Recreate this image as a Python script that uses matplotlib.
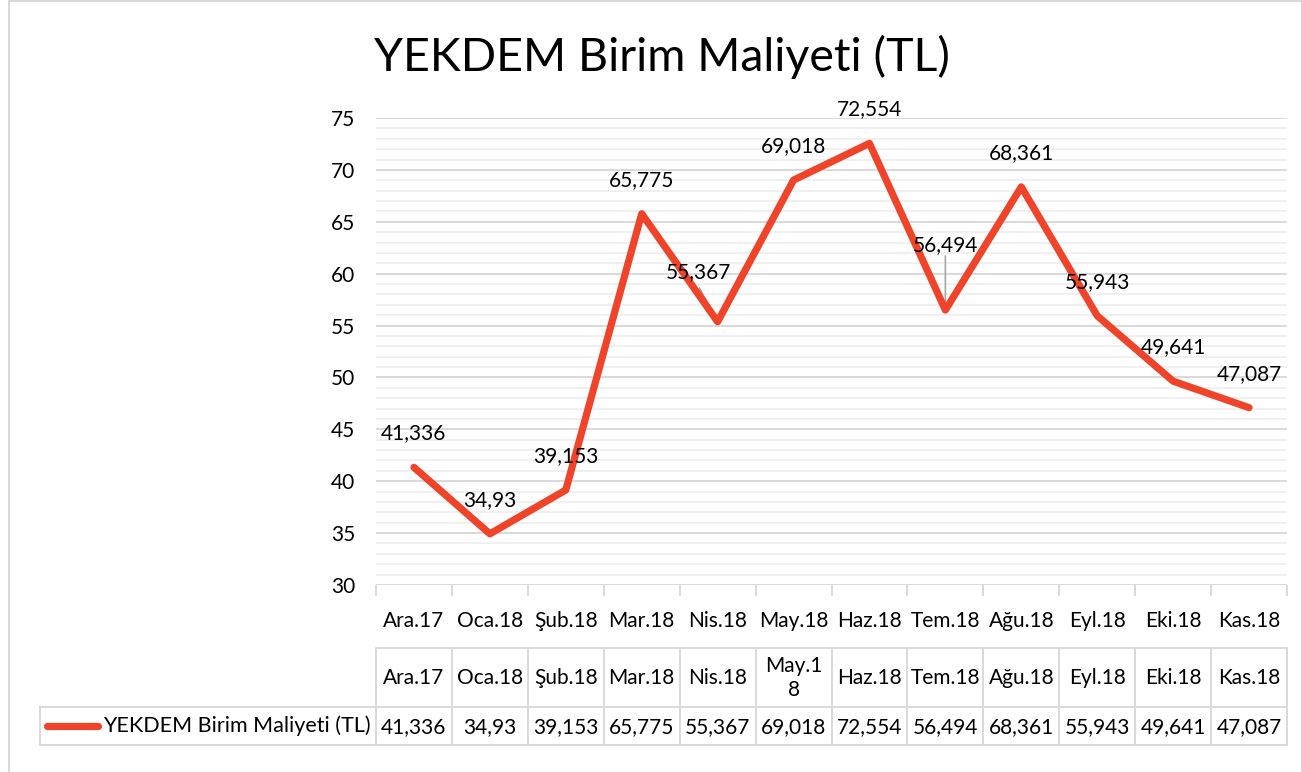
"""YEKDEM birim maliyeti çizgi grafiği (Excel görünümlü, veri tablolu)."""

import matplotlib

matplotlib.use("Agg")
import matplotlib.pyplot as plt
from matplotlib.lines import Line2D
from matplotlib.ticker import MultipleLocator

MONTHS = ["Ara.17", "Oca.18", "Şub.18", "Mar.18", "Nis.18", "May.18",
          "Haz.18", "Tem.18", "Ağu.18", "Eyl.18", "Eki.18", "Kas.18"]
COST = [41.336, 34.93, 39.153, 65.775, 55.367, 69.018,
        72.554, 56.494, 68.361, 55.943, 49.641, 47.087]
SERIES_NAME = "YEKDEM Birim Maliyeti (TL)"
TITLE = "YEKDEM Birim Maliyeti (TL)"

LINE_COLOR = "#F0442A"
GRID_MAJOR = "#D9D9D9"
GRID_MINOR = "#F0F0F0"
FONT = "Lato"

W, H = 1301, 772
plt.rcParams["font.family"] = [FONT, "DejaVu Sans"]


def fx(px):
    return px / W


def fy(py):
    return 1 - py / H


def fmt(v):
    return f"{v:g}".replace(".", ",")


fig = plt.figure(figsize=(W / 100, H / 100), dpi=100)
fig.patch.set_facecolor("white")

left, right, top, bottom = 376, 1287, 118, 585
ax = fig.add_axes([fx(left), fy(bottom), fx(right - left), (bottom - top) / H])
xs = list(range(len(MONTHS)))
ax.plot(xs, COST, color=LINE_COLOR, lw=5.2, solid_joinstyle="round",
        solid_capstyle="round", zorder=5)
ax.set_xlim(-0.5, len(MONTHS) - 0.5)
ax.set_ylim(30, 75)
ax.yaxis.set_major_locator(MultipleLocator(5))
ax.yaxis.set_minor_locator(MultipleLocator(1))
ax.grid(True, which="major", axis="y", color=GRID_MAJOR, lw=1.4)
ax.grid(True, which="minor", axis="y", color=GRID_MINOR, lw=1.4)
ax.set_axisbelow(True)
for side in ["top", "right", "left", "bottom"]:
    ax.spines[side].set_visible(False)
ax.tick_params(axis="y", which="both", length=0, labelsize=15, pad=15)
ax.set_xticks([i + 0.5 for i in range(-1, len(MONTHS))])
ax.set_xticklabels([])
ax.tick_params(axis="x", length=8, color=GRID_MAJOR, width=1.4)
ax.set_xticks(xs, minor=True)
ax.set_xticklabels(MONTHS, minor=True, fontsize=15)
ax.tick_params(axis="x", which="minor", length=0, pad=19)

# veri etiketleri (piksel kaydırmaları)
offsets = [(0, 24), (0, 24), (0, 24), (0, 24), (-19, 40), (0, 24),
           (0, 24), (0, 55), (0, 24), (0, 24), (0, 24), (0, 24)]
for i, (v, off) in enumerate(zip(COST, offsets)):
    ax.annotate(fmt(v), (i, v), xytext=(off[0] * 0.72, off[1] * 0.72),
                textcoords="offset points", ha="center", va="bottom",
                fontsize=15, zorder=6)
# bağlantı çizgileri
ax.annotate("", (4, COST[4]), xytext=(-14, 26), textcoords="offset points",
            arrowprops=dict(arrowstyle="-", color="#A6A6A6", lw=1.2))
ax.annotate("", (7, COST[7]), xytext=(0, 41), textcoords="offset points",
            arrowprops=dict(arrowstyle="-", color="#A6A6A6", lw=1.2))

fig.text(fx(662), fy(57), TITLE, ha="center", va="center", fontsize=33.5)

# veri tablosu
col_w = (right - left) / len(MONTHS)
bounds = [left + i * col_w for i in range(len(MONTHS) + 1)]
r_top, r_mid, r_bot = 648, 707, 745
lc = dict(color=GRID_MAJOR, lw=1.4, transform=fig.transFigure)
fig.add_artist(Line2D([fx(left), fx(right)], [fy(r_top), fy(r_top)], **lc))
fig.add_artist(Line2D([fx(40), fx(right)], [fy(r_mid), fy(r_mid)], **lc))
fig.add_artist(Line2D([fx(40), fx(right)], [fy(r_bot), fy(r_bot)], **lc))
fig.add_artist(Line2D([fx(40), fx(40)], [fy(r_mid), fy(r_bot)], **lc))
for b in bounds:
    fig.add_artist(Line2D([fx(b), fx(b)], [fy(r_top), fy(r_bot)], **lc))

for i, m in enumerate(MONTHS):
    cx = fx(bounds[i] + col_w / 2)
    label = m
    if m == "May.18":
        label = "May.1\n8"
    fig.text(cx, fy((r_top + r_mid) / 2), label, ha="center", va="center",
             fontsize=15, linespacing=1.25)
    fig.text(cx, fy((r_mid + r_bot) / 2 + 1), fmt(COST[i]), ha="center",
             va="center", fontsize=15)

fig.add_artist(Line2D([fx(47), fx(98)], [fy(726), fy(726)], color=LINE_COLOR,
                      lw=5.2, solid_capstyle="round", transform=fig.transFigure))
fig.text(fx(103), fy(726), SERIES_NAME, ha="left", va="center", fontsize=15.5)

# dış çerçeve
fig.add_artist(Line2D([fx(9), fx(9)], [fy(1), fy(772)], **lc))
fig.add_artist(Line2D([fx(9), fx(1301)], [fy(1), fy(1)], **lc))

fig.savefig("out.png", dpi=100)
